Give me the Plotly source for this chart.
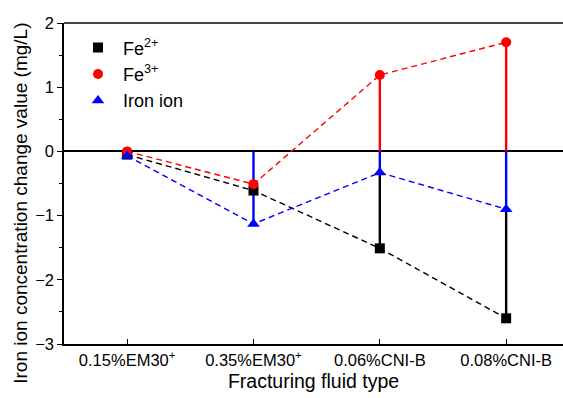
import plotly.graph_objects as go

categories = ["0.15%EM30<sup>+</sup>", "0.35%EM30<sup>+</sup>", "0.06%CNI-B", "0.08%CNI-B"]
fe2 = [-0.05, -0.61, -1.51, -2.60]
fe3 = [0.00, -0.51, 1.19, 1.70]
iron = [-0.07, -1.13, -0.33, -0.90]

# drawn in this order (later on top)
series = [
    ("Fe<sup>2+</sup>", fe2, "black", "square", 10),
    ("Fe<sup>3+</sup>", fe3, "red", "circle", 10),
    ("Iron ion", iron, "blue", "triangle-up", 11),
]

xi = list(range(len(categories)))
fig = go.Figure()

# drop lines from zero: draw only the part not hidden by a later (upper) series
for k, (name, vals, col, sym, sz) in enumerate(series):
    xs, ys = [], []
    for j, v in enumerate(vals):
        start = 0.0
        for _, ovals, *_ in series[k + 1:]:
            w = ovals[j]
            if w * v > 0 and abs(w) > abs(start):
                start = w
        if abs(v) > abs(start):
            xs += [xi[j], xi[j], None]
            ys += [start, v, None]
    fig.add_trace(go.Scatter(x=xs, y=ys, mode="lines", line=dict(color=col, width=2.4),
                             showlegend=False, hoverinfo="skip"))

# dashed connecting lines
for name, vals, col, sym, sz in series:
    fig.add_trace(go.Scatter(x=xi, y=vals, mode="lines", line=dict(color=col, width=1.4, dash="6px,4px"),
                             showlegend=False))

# markers (legend)
for name, vals, col, sym, sz in series:
    fig.add_trace(go.Scatter(x=xi, y=vals, mode="markers", name=name,
                             marker=dict(color=col, symbol=sym, size=sz, line=dict(width=0))))

fig.add_shape(type="line", xref="paper", yref="paper", x0=0, x1=1, y0=1, y1=1,
              line=dict(color="#444", width=2))

fig.add_annotation(text="Iron ion concentration change value (mg/L)", textangle=-90,
                   xref="paper", yref="paper", x=-0.0862, y=0.44, xanchor="center", yanchor="middle",
                   showarrow=False, font=dict(size=19))

fig.update_layout(
    width=563, height=398,
    margin=dict(l=64, r=0, t=23, b=54),
    paper_bgcolor="white", plot_bgcolor="white",
    font=dict(family="Liberation Sans, Arial", color="black", size=16),
    legend=dict(x=0.018, y=0.98, xanchor="left", yanchor="top", bgcolor="rgba(0,0,0,0)",
                font=dict(size=18), itemwidth=40, tracegroupgap=0),
    xaxis=dict(range=[-0.5, 3.45], tickmode="array", tickvals=xi, ticktext=categories,
               showgrid=False, zeroline=False, showline=True, linecolor="black", linewidth=1.5,
               ticks="inside", ticklen=5, tickcolor="black", tickfont=dict(size=16.5),
               title=dict(text="Fracturing fluid type", font=dict(size=19.5), standoff=7)),
    yaxis=dict(range=[-3, 2], dtick=1, showgrid=False, zeroline=True, zerolinecolor="black",
               zerolinewidth=1.5, showline=True, linecolor="black", linewidth=1.5,
               ticks="outside", ticklen=5, tickcolor="black", tickfont=dict(size=16.5),
               minor=dict(dtick=0.5, ticks="outside", ticklen=3, tickcolor="black")),
)

fig.write_html("out.html")
